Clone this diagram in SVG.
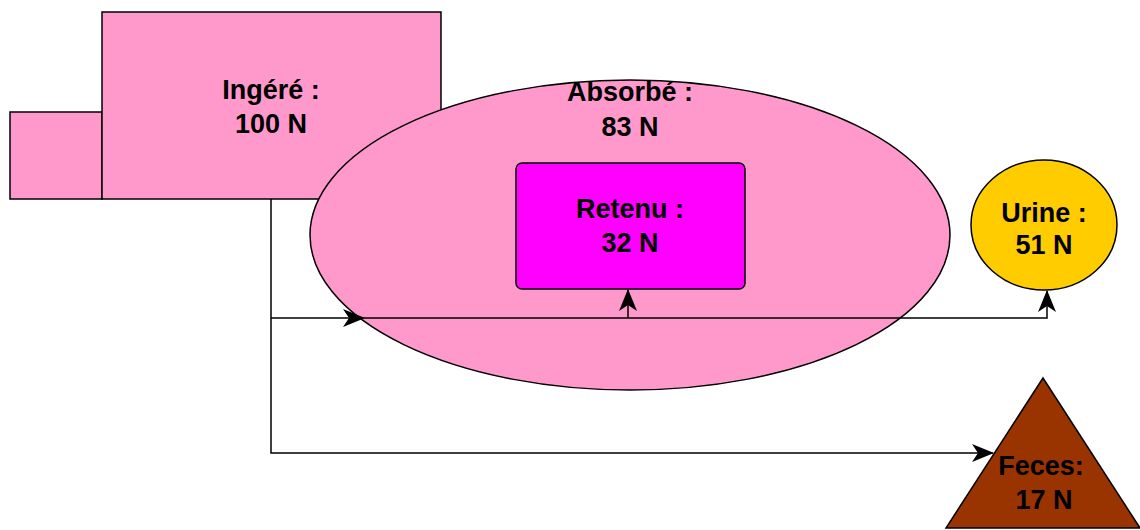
<svg xmlns="http://www.w3.org/2000/svg" width="1140" height="530" viewBox="0 0 1140 530">
<style>
.s{stroke:#000;stroke-width:1.5}
.t{font-family:"Liberation Sans",Arial,sans-serif;font-weight:bold;font-size:27px;text-anchor:middle;fill:#000}
.c{fill:none;stroke:#000;stroke-width:1.5}
</style>
<defs>
<marker id="a" viewBox="0 0 22 18" markerWidth="22" markerHeight="18" refX="21" refY="9" orient="auto" markerUnits="userSpaceOnUse">
<path d="M0,0 L22,9 L0,18 L6,9 z" fill="#000"/>
</marker>
</defs>
<rect width="1140" height="530" fill="#fff"/>
<g id="ingere">
<rect class="s" x="10" y="112" width="92" height="87" fill="#FF99CC"/>
<rect class="s" x="102" y="12" width="339" height="187" fill="#FF99CC"/>
<text class="t" x="271" y="99">Ingéré :</text>
<text class="t" x="271" y="133">100 N</text>
</g>
<g id="absorbe">
<ellipse class="s" cx="630" cy="235" rx="320" ry="155" fill="#FF99CC"/>
<text class="t" x="630" y="101">Absorbé :</text>
<text class="t" x="630" y="136">83 N</text>
</g>
<g id="retenu">
<rect class="s" x="516" y="163" width="229" height="126" rx="6" fill="#FF00FF"/>
<text class="t" x="630" y="218">Retenu :</text>
<text class="t" x="630" y="252">32 N</text>
</g>
<g id="urine">
<ellipse class="s" cx="1044" cy="225" rx="73" ry="65" fill="#FFCC00"/>
<text class="t" x="1044" y="222">Urine :</text>
<text class="t" x="1044" y="254">51 N</text>
</g>
<g id="feces">
<polygon class="s" points="1043,378 1140,528 946,528" fill="#993300"/>
<text class="t" x="1041" y="475">Feces:</text>
<text class="t" x="1044" y="509">17 N</text>
</g>
<g id="connectors">
<path class="c" d="M271,199 L271,453 L993,453" marker-end="url(#a)"/>
<path class="c" d="M271,318 L364,318" marker-end="url(#a)"/>
<path class="c" d="M364,318 L1047,318 L1047,291" marker-end="url(#a)"/>
<path class="c" d="M628,318 L628,290" marker-end="url(#a)"/>
</g>
</svg>
